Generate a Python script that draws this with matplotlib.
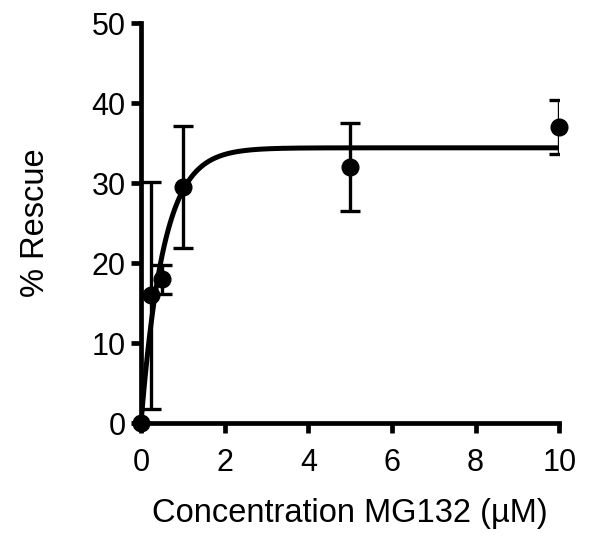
import numpy as np
import matplotlib
matplotlib.use('Agg')
import matplotlib.pyplot as plt

# data
conc = [0, 0.25, 0.5, 1, 5, 10]
rescue = [0, 16, 18, 29.5, 32, 37]
err = [0, 14.2, 1.8, 7.6, 5.5, 3.4]

plt.rcParams['font.family'] = ['Liberation Sans', 'DejaVu Sans']

# one-phase association fit, Y = Ymax*(1 - exp(-k*x)), simple grid search
x = np.array(conc, dtype=float)
y = np.array(rescue, dtype=float)
best = None
for k in np.linspace(0.1, 10, 2000):
    f = 1 - np.exp(-k * x)
    ymax = (f @ y) / (f @ f)
    sse = np.sum((y - ymax * f) ** 2)
    if best is None or sse < best[0]:
        best = (sse, k, ymax)
_, k_fit, ymax_fit = best
xs = np.linspace(0, 10, 400)
ys = ymax_fit * (1 - np.exp(-k_fit * xs))

fig = plt.figure(figsize=(6, 5.37), dpi=100)
ax = fig.add_axes([0.235, 0.212, 0.697, 0.745])

ax.plot(xs, ys, color='black', lw=3.6, zorder=3)
ax.errorbar(conc, rescue, yerr=err, fmt='none', ecolor='black',
            elinewidth=2.4, capsize=7, capthick=2.4, zorder=2)
ax.plot(conc, rescue, 'o', color='black', ms=12, clip_on=False, zorder=4)

ax.set_xlim(0, 10)
ax.set_ylim(0, 50)
ax.set_xticks([0, 2, 4, 6, 8, 10])
ax.set_yticks([0, 10, 20, 30, 40, 50])

for s in ['top', 'right']:
    ax.spines[s].set_visible(False)
for s in ['left', 'bottom']:
    ax.spines[s].set_linewidth(3.4)
ax.tick_params(width=3.4, length=7, labelsize=22, pad=4)
ax.tick_params(axis='x', pad=11)

ax.set_xlabel('Concentration MG132 (µM)', fontsize=23.5, labelpad=14)
ax.set_ylabel('% Rescue', fontsize=23.5, labelpad=29)

fig.savefig('out.png', dpi=100)
